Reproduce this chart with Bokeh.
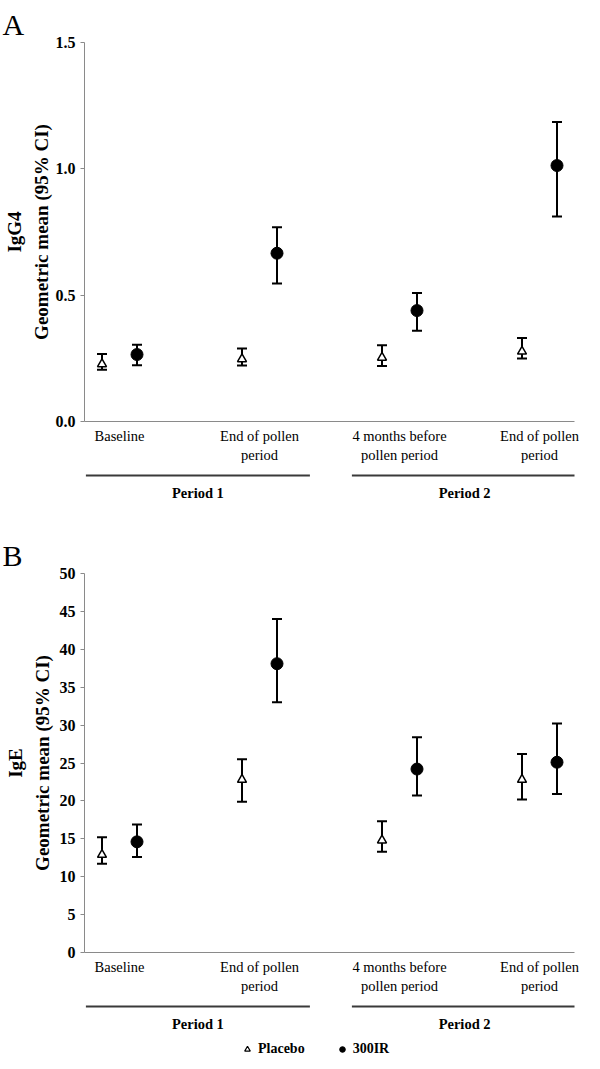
from bokeh.plotting import figure
from bokeh.models import (Range1d, FixedTicker, Whisker, TeeHead, ColumnDataSource,
                          Legend, LegendItem, NumeralTickFormatter, Title)
from bokeh.layouts import column
from bokeh.embed import file_html
from bokeh.resources import INLINE
from bokeh.core.properties import value

# ---------------- data ----------------
categories = ["Baseline", "End of pollen\nperiod", "4 months before\npollen period", "End of pollen\nperiod"]
periods = ["Period 1", "Period 2"]
series = ["Placebo", "300IR"]

igg4_placebo_mean = [0.227, 0.247, 0.253, 0.277]
igg4_placebo_lo = [0.205, 0.222, 0.220, 0.249]
igg4_placebo_hi = [0.267, 0.289, 0.302, 0.330]
igg4_active_mean = [0.265, 0.666, 0.439, 1.013]
igg4_active_lo = [0.223, 0.546, 0.359, 0.811]
igg4_active_hi = [0.304, 0.769, 0.509, 1.185]
igg4_ticks = [0.0, 0.5, 1.0, 1.5]

ige_placebo_mean = [12.9, 22.8, 14.8, 22.8]
ige_placebo_lo = [11.7, 19.9, 13.3, 20.2]
ige_placebo_hi = [15.2, 25.5, 17.3, 26.2]
ige_active_mean = [14.6, 38.1, 24.2, 25.1]
ige_active_lo = [12.6, 33.0, 20.7, 20.9]
ige_active_hi = [16.9, 44.0, 28.4, 30.2]
ige_ticks = [0, 5, 10, 15, 20, 25, 30, 35, 40, 45, 50]

# ---------------- layout constants ----------------
SERIF = "Liberation Serif"
W = 600
LEFT = 84
FRAME_W = 490
X0, X1 = 0.75, 4.25
DODGE = 0.125
GRAY = "#8a8a8a"
cat_pos = [i + 1 for i in range(len(categories))]
period_bounds = [(0.76, 2.36), (2.66, 4.27)]


def strip(height):
    s = figure(width=W, height=height, output_backend="svg", toolbar_location=None,
               x_range=Range1d(X0, X1), y_range=Range1d(height, 0),
               x_axis_location=None, y_axis_location=None,
               min_border_left=LEFT, min_border_right=W - LEFT - FRAME_W,
               min_border_top=0, min_border_bottom=0)
    s.outline_line_color = None
    s.grid.visible = False
    return s


def add_periods(s, line_y, label_y):
    s.segment(x0=[b[0] for b in period_bounds], x1=[b[1] for b in period_bounds],
              y0=[line_y] * 2, y1=[line_y] * 2, line_color="#3a3a3a", line_width=2)
    s.text(x=[(b[0] + b[1]) / 2 for b in period_bounds], y=[label_y] * 2, text=periods,
           text_font=value(SERIF), text_font_style="bold", text_font_size="14.5px",
           text_align="center", text_baseline="middle", text_color="black")


def panel(letter, title, ymax, ticks, fmt, pm, plo, phi, am, alo, ahi, label_standoff):
    ttl = Title(text=letter, align="left", vertical_align="top", offset=2 - LEFT, standoff=0,
                text_font=SERIF, text_font_style="normal", text_font_size="30px",
                text_line_height=1.3, text_color="black")
    p = figure(width=W, height=42 + 379 + 50, output_backend="svg", toolbar_location=None,
               x_range=Range1d(X0, X1), y_range=Range1d(0, ymax), title=ttl,
               min_border_left=LEFT, min_border_right=W - LEFT - FRAME_W,
               min_border_top=42, min_border_bottom=50)
    p.outline_line_color = None
    p.grid.visible = False

    ya = p.yaxis[0]
    ya.ticker = FixedTicker(ticks=ticks)
    ya.formatter = NumeralTickFormatter(format=fmt)
    ya.major_label_text_font = SERIF
    ya.major_label_text_font_style = "bold"
    ya.major_label_text_font_size = "16px"
    ya.major_label_text_color = "black"
    ya.major_label_standoff = 5
    ya.major_tick_in = 0
    ya.major_tick_out = 4
    ya.minor_tick_line_color = None
    ya.axis_line_color = GRAY
    ya.major_tick_line_color = GRAY
    ya.axis_label = title + "\nGeometric mean (95% CI)"
    ya.axis_label_text_font = SERIF
    ya.axis_label_text_font_style = "bold"
    ya.axis_label_text_font_size = "19px"
    ya.axis_label_text_color = "black"
    ya.axis_label_standoff = label_standoff
    ya.axis_label_text_line_height = 1.25

    xa = p.xaxis[0]
    xa.ticker = FixedTicker(ticks=cat_pos)
    xa.major_label_overrides = {c: lab for c, lab in zip(cat_pos, categories)}
    xa.major_label_text_font = SERIF
    xa.major_label_text_font_size = "14.5px"
    xa.major_label_text_color = "black"
    xa.major_label_text_line_height = 1.2
    xa.major_label_standoff = 6
    xa.major_tick_in = 0
    xa.major_tick_out = 0
    xa.minor_tick_line_color = None
    xa.major_tick_line_color = None
    xa.axis_line_color = GRAY

    xp = [c - DODGE for c in cat_pos]
    xact = [c + DODGE for c in cat_pos]
    sp = ColumnDataSource(dict(x=xp, m=pm, lo=plo, hi=phi))
    sa = ColumnDataSource(dict(x=xact, m=am, lo=alo, hi=ahi))
    for src in (sp, sa):
        p.add_layout(Whisker(source=src, base="x", lower="lo", upper="hi", dimension="height",
                             line_color="black", line_width=2, level="underlay",
                             upper_head=TeeHead(size=10, line_width=2, line_color="black"),
                             lower_head=TeeHead(size=10, line_width=2, line_color="black")))
    p.scatter(x="x", y="m", source=sp, marker="triangle", size=9,
              fill_color="white", line_color="black", line_width=1.5)
    p.scatter(x="x", y="m", source=sa, marker="circle", size=12,
              fill_color="black", line_color="black")
    return p


pa = panel("A", "IgG4", 1.5, igg4_ticks, "0.0",
           igg4_placebo_mean, igg4_placebo_lo, igg4_placebo_hi,
           igg4_active_mean, igg4_active_lo, igg4_active_hi, 1)    # page 0..471

midAB = strip(60)                                                  # page 471..531
add_periods(midAB, 4, 21)

pb = panel("B", "IgE", 50, ige_ticks, "0",
           ige_placebo_mean, ige_placebo_lo, ige_placebo_hi,
           ige_active_mean, ige_active_lo, ige_active_hi, 4)       # page 531..1002

botB = strip(64)                                                   # page 1002..1066
add_periods(botB, 4, 21)
# legend proxies (kept outside the strip's visible range)
proxy = ColumnDataSource(dict(x=[X0], y=[-1000]))
r_tri = botB.scatter(x="x", y="y", source=proxy, marker="triangle", size=11,
                     fill_color="white", line_color="black", line_width=1.2)
r_cir = botB.scatter(x="x", y="y", source=proxy, marker="circle", size=10,
                     fill_color="black", line_color="black")
lg = Legend(items=[LegendItem(label=series[0], renderers=[r_tri]),
                   LegendItem(label=series[1], renderers=[r_cir])],
            orientation="horizontal", location=(156, 9),
            border_line_color=None, background_fill_alpha=0,
            label_text_font=SERIF, label_text_font_size="14px",
            label_text_font_style="bold", label_text_color="black",
            padding=0, margin=0, spacing=30, glyph_width=14, glyph_height=14,
            label_standoff=4, label_height=14)
botB.add_layout(lg)

layout = column(pa, midAB, pb, botB, spacing=0)
open("out.html", "w").write(file_html(layout, INLINE))
